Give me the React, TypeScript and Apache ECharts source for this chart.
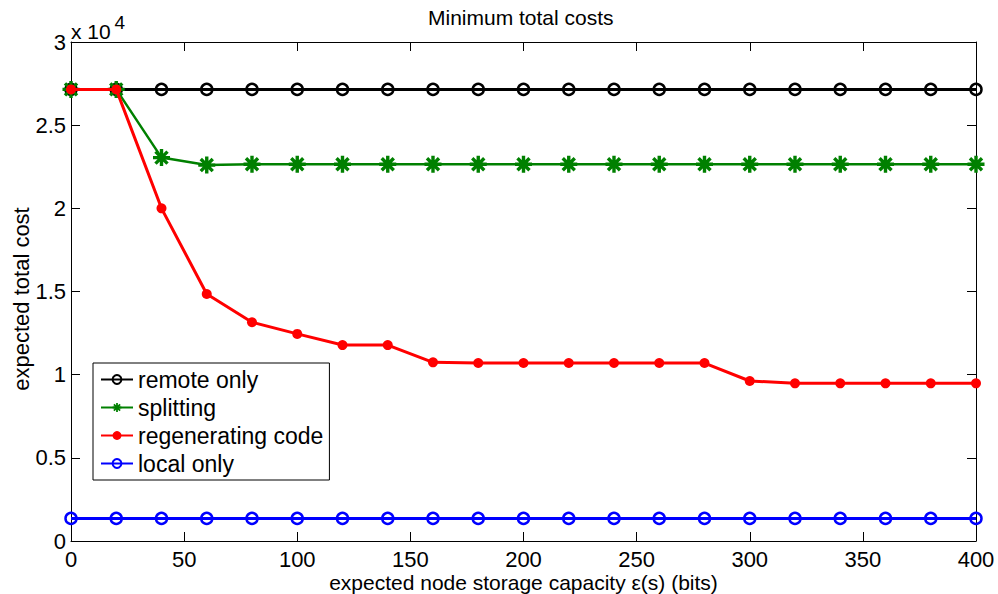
import React, { useEffect, useRef } from "react";
import * as echarts from "echarts";

const xValues = [0, 20, 40, 60, 80, 100, 120, 140, 160, 180, 200, 220, 240, 260, 280, 300, 320, 340, 360, 380, 400];
const remoteOnly = [27150, 27150, 27150, 27150, 27150, 27150, 27150, 27150, 27150, 27150, 27150, 27150, 27150, 27150, 27150, 27150, 27150, 27150, 27150, 27150, 27150];
const splitting = [27150, 27150, 23050, 22600, 22650, 22650, 22650, 22650, 22650, 22650, 22650, 22650, 22650, 22650, 22650, 22650, 22650, 22650, 22650, 22650, 22650];
const regenerating = [27150, 27150, 20000, 14850, 13150, 12450, 11780, 11780, 10740, 10700, 10700, 10700, 10700, 10700, 10700, 9620, 9480, 9480, 9480, 9480, 9480];
const localOnly = [1360, 1360, 1360, 1360, 1360, 1360, 1360, 1360, 1360, 1360, 1360, 1360, 1360, 1360, 1360, 1360, 1360, 1360, 1360, 1360, 1360];
const seriesNames = ["remote only", "splitting", "regenerating code", "local only"];

const FONT = "Liberation Sans";
const ASTERISK =
  "path://M-2,-10L2,-10L2,10L-2,10Z" +
  "M-10,-2L10,-2L10,2L-10,2Z" +
  "M-5.66,-8.49L8.49,5.66L5.66,8.49L-8.49,-5.66Z" +
  "M5.66,-8.49L8.49,-5.66L-5.66,8.49L-8.49,5.66Z";

const pairs = (ys: number[]) => xValues.map((x, i) => [x, ys[i]]);

export default function App() {
  const ref = useRef<HTMLDivElement>(null);
  useEffect(() => {
    document.body.style.margin = "0";
    const chart = echarts.init(ref.current!, null, { renderer: "svg" });
    const axisLine = { show: true, onZero: false, lineStyle: { color: "#000", width: 1 } };
    const axisTick = { show: true, inside: true, length: 9, lineStyle: { color: "#000", width: 1 } };
    chart.setOption({
      animation: false,
      backgroundColor: "#fff",
      textStyle: { fontFamily: FONT, color: "#000" },
      title: {
        text: "Minimum total costs",
        left: 428,
        top: 7,
        padding: 0,
        textStyle: { fontFamily: FONT, fontSize: 21, fontWeight: "normal", color: "#000" },
      },
      grid: { left: 71, right: 22, top: 42, bottom: 53, containLabel: false, outerBoundsMode: "none" },
      legend: {
        orient: "vertical",
        left: 93,
        top: 363,
        padding: [5, 6, 5, 7],
        itemGap: 5,
        itemWidth: 32,
        itemHeight: 11,
        borderColor: "#000",
        borderWidth: 1,
        backgroundColor: "#fff",
        borderRadius: 0,
        data: seriesNames,
        textStyle: { fontFamily: FONT, fontSize: 23, color: "#000" },
      },
      xAxis: [
        {
          type: "value",
          min: 0,
          max: 400,
          interval: 50,
          position: "bottom",
          name: "expected node storage capacity ε(s) (bits)",
          nameLocation: "middle",
          nameGap: 31,
          nameMoveOverlap: false,
          nameTextStyle: { fontFamily: FONT, fontSize: 21, color: "#000" },
          axisLine,
          axisTick,
          splitLine: { show: false },
          axisLabel: { margin: 7, fontFamily: FONT, fontSize: 22, color: "#000" },
        },
        {
          type: "value",
          min: 0,
          max: 400,
          interval: 50,
          position: "top",
          axisLine,
          axisTick,
          splitLine: { show: false },
          axisLabel: { show: false },
        },
      ],
      yAxis: [
        {
          type: "value",
          min: 0,
          max: 30000,
          interval: 5000,
          position: "left",
          axisLine,
          axisTick,
          splitLine: { show: false },
          axisLabel: {
            margin: 5,
            fontFamily: FONT,
            fontSize: 22,
            color: "#000",
            formatter: (v: number) => String(v / 10000),
          },
        },
        {
          type: "value",
          min: 0,
          max: 30000,
          interval: 5000,
          position: "right",
          axisLine,
          axisTick,
          splitLine: { show: false },
          axisLabel: { show: false },
        },
      ],
      graphic: [
        {
          type: "text",
          x: 21,
          y: 299,
          rotation: Math.PI / 2,
          style: { text: "expected total cost", fontFamily: FONT, fontSize: 22, fill: "#000", align: "center", verticalAlign: "middle" },
        },
        {
          type: "text",
          x: 71,
          y: 31,
          style: { text: "x 10", fontFamily: FONT, fontSize: 21, fill: "#000", align: "left", verticalAlign: "middle" },
        },
        {
          type: "text",
          x: 114.5,
          y: 22.6,
          style: { text: "4", fontFamily: FONT, fontSize: 19, fill: "#000", align: "left", verticalAlign: "middle" },
        },
      ],
      series: [
        {
          name: seriesNames[0],
          type: "line",
          data: pairs(remoteOnly),
          symbol: "circle",
          symbolSize: 11,
          showAllSymbol: true,
          lineStyle: { color: "#000", width: 3 },
          itemStyle: { color: "rgba(255,255,255,0)", borderColor: "#000", borderWidth: 2.5 },
          z: 2,
        },
        {
          name: seriesNames[1],
          type: "line",
          data: pairs(splitting),
          symbol: ASTERISK,
          symbolSize: 17,
          showAllSymbol: true,
          lineStyle: { color: "#008000", width: 2.5 },
          itemStyle: { color: "#008000" },
          z: 3,
        },
        {
          name: seriesNames[2],
          type: "line",
          data: pairs(regenerating),
          symbol: "circle",
          symbolSize: 10,
          showAllSymbol: true,
          lineStyle: { color: "#ff0000", width: 3 },
          itemStyle: { color: "#ff0000" },
          z: 4,
        },
        {
          name: seriesNames[3],
          type: "line",
          data: pairs(localOnly),
          symbol: "circle",
          symbolSize: 11,
          showAllSymbol: true,
          lineStyle: { color: "#0000ff", width: 3 },
          itemStyle: { color: "rgba(255,255,255,0)", borderColor: "#0000ff", borderWidth: 2.5 },
          z: 5,
        },
      ],
    });
    return () => chart.dispose();
  }, []);
  return <div ref={ref} style={{ width: 998, height: 594 }} />;
}
